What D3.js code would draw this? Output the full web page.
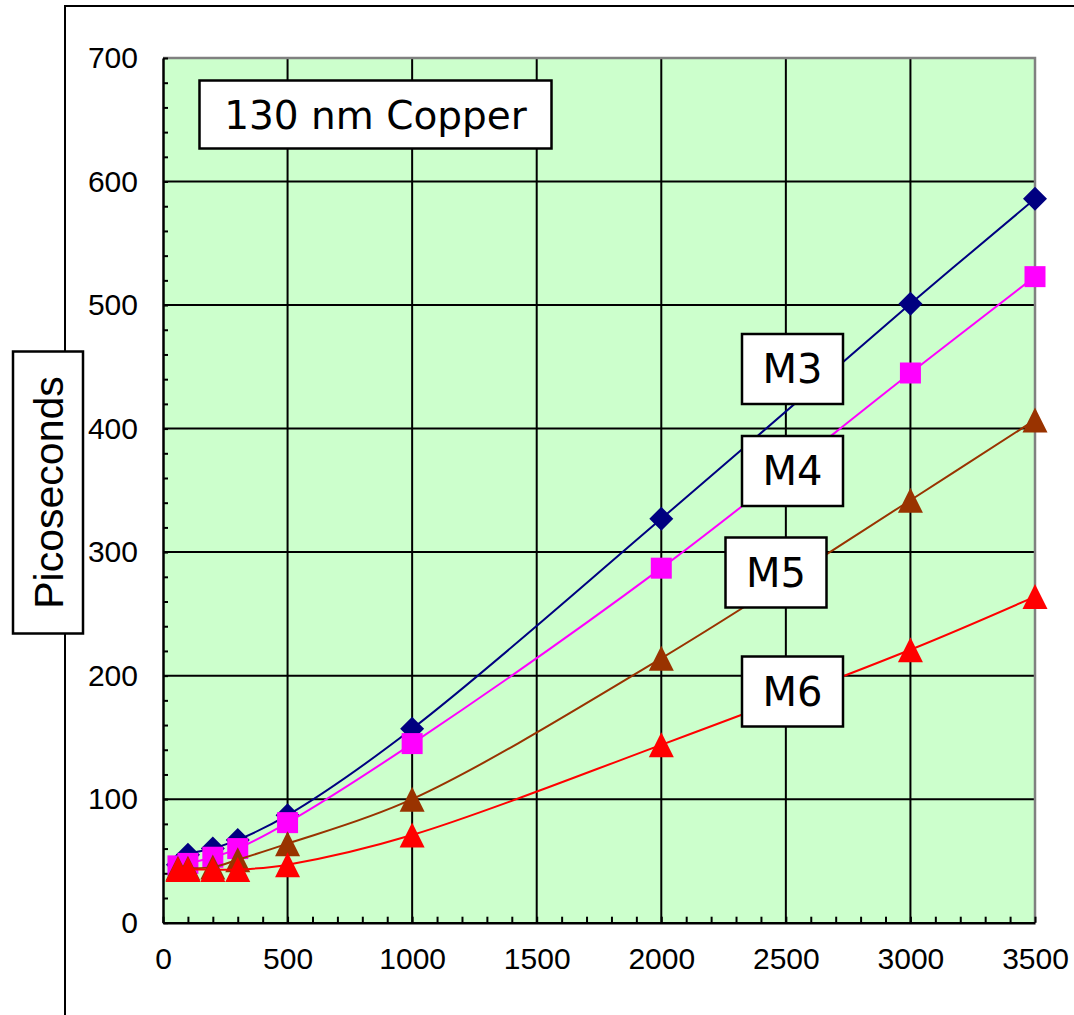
<!DOCTYPE html>
<html>
<head>
<meta charset="utf-8">
<script src="https://d3js.org/d3.v7.min.js"></script>
<style>
  body { margin: 0; background: #fff; }
  svg { display: block; }
</style>
</head>
<body>
<div id="chart"></div>
<script>
// data
const lengths = [60, 100, 200, 300, 500, 1000, 2000, 3000, 3500];
const m3 = [47, 55, 60, 67, 87, 157, 327, 501, 586];
const m4 = [46, 48, 53, 60, 81, 145, 287, 445, 523];
const m5 = [44, 44, 45, 51, 64, 100, 214, 342, 407];
const m6 = [43, 43, 43, 43, 47, 71, 144, 221, 264];
const seriesNames = ['M3', 'M4', 'M5', 'M6'];
const xTicks = [0, 500, 1000, 1500, 2000, 2500, 3000, 3500];
const yTicks = [0, 100, 200, 300, 400, 500, 600, 700];
const title = '130 nm Copper';
const yLabel = 'Picoseconds';

const width = 1074, height = 1015;
const plot = {left: 163, right: 1035, top: 58, bottom: 922.7};

const series = [
  {name: 'M3', values: m3, color: '#000080', marker: 'diamond'},
  {name: 'M4', values: m4, color: '#ff00ff', marker: 'square'},
  {name: 'M5', values: m5, color: '#993300', marker: 'triangle'},
  {name: 'M6', values: m6, color: '#ff0000', marker: 'triangle'}
];

const svg = d3.select('#chart').append('svg')
  .attr('width', width).attr('height', height);

const x = d3.scaleLinear([0, 3500], [plot.left, plot.right]);
const y = d3.scaleLinear([0, 700], [plot.bottom, plot.top]);

// outer frame (only top and left show)
svg.append('path')
  .attr('d', `M65,${height}V6H${width}`)
  .attr('fill', 'none').attr('stroke', '#000').attr('stroke-width', 2);

// plot background
svg.append('rect')
  .attr('x', plot.left).attr('y', plot.top)
  .attr('width', plot.right - plot.left).attr('height', plot.bottom - plot.top)
  .attr('fill', '#ccffcc');

// grid
const grid = svg.append('g').attr('stroke', '#000').attr('stroke-width', 2);
grid.selectAll('line.gx').data(xTicks.slice(1, -1)).join('line')
  .attr('x1', d => x(d)).attr('x2', d => x(d))
  .attr('y1', plot.top).attr('y2', plot.bottom);
grid.selectAll('line.gy').data(yTicks.slice(1, -1)).join('line')
  .attr('y1', d => y(d)).attr('y2', d => y(d))
  .attr('x1', plot.left).attr('x2', plot.right);

// gray top / right border
svg.append('path')
  .attr('d', `M${plot.left},${plot.top}H${plot.right}V${plot.bottom}`)
  .attr('fill', 'none').attr('stroke', '#808080').attr('stroke-width', 2.5);

// minor ticks, inside the plot
const axisY = svg.append('g')
  .attr('transform', `translate(${plot.left},0)`)
  .call(d3.axisRight(y).ticks(35).tickSizeInner(5).tickSizeOuter(0).tickFormat(''));
const axisX = svg.append('g')
  .attr('transform', `translate(0,${plot.bottom})`)
  .call(d3.axisTop(x).ticks(35).tickSizeInner(6).tickSizeOuter(0).tickFormat(''));
[axisY, axisX].forEach(a => {
  a.select('.domain').attr('stroke', '#000').attr('stroke-width', 2.5);
  a.selectAll('.tick line').attr('stroke', '#000').attr('stroke-width', 2);
});

// tick labels
const fmt = d3.format('d');
const labelsY = svg.append('g')
  .attr('transform', `translate(${plot.left - 25},0)`)
  .call(d3.axisLeft(y).tickValues(yTicks).tickFormat(fmt).tickSize(0).tickPadding(0));
const labelsX = svg.append('g')
  .attr('transform', `translate(0,${plot.bottom + 24})`)
  .call(d3.axisBottom(x).tickValues(xTicks).tickFormat(fmt).tickSize(0).tickPadding(0));
[labelsY, labelsX].forEach(a => {
  a.select('.domain').remove();
  a.selectAll('text')
    .attr('font-family', 'Arial, "Liberation Sans", sans-serif')
    .attr('font-size', 30).attr('fill', '#000');
});
labelsX.selectAll('text').attr('dy', '0.75em');

// lines then markers, series by series
const line = d3.line()
  .x((d, i) => x(lengths[i]))
  .y(d => y(d))
  .curve(d3.curveCatmullRom.alpha(0.5));

const markerPath = {
  diamond: 'M0,-12L12,0L0,12L-12,0Z',
  square: 'M-10.5,-10.5H10.5V10.5H-10.5Z',
  triangle: 'M0,-12.5L12.5,12.5H-12.5Z'
};

series.forEach(s => {
  const g = svg.append('g').attr('class', 'series');
  g.append('path')
    .attr('d', line(s.values))
    .attr('fill', 'none').attr('stroke', s.color).attr('stroke-width', 2);
  g.selectAll('path.marker').data(s.values).join('path')
    .attr('class', 'marker')
    .attr('transform', (d, i) => `translate(${x(lengths[i])},${y(d)})`)
    .attr('d', markerPath[s.marker])
    .attr('fill', s.color);
});

// boxed text labels
function box(cx, cy, w, h, text, size, family, rotate) {
  const g = svg.append('g').attr('transform', `translate(${cx},${cy})` + (rotate ? ' rotate(-90)' : ''));
  g.append('rect')
    .attr('x', -w / 2).attr('y', -h / 2).attr('width', w).attr('height', h)
    .attr('fill', '#fff').attr('stroke', '#000').attr('stroke-width', 2.5);
  g.append('text')
    .attr('text-anchor', 'middle').attr('dy', '0.36em')
    .attr('font-family', family).attr('font-size', size)
    .text(text);
}

const verdana = 'Verdana, "DejaVu Sans", sans-serif';
box(375.5, 114.5, 352, 68, title, 39, verdana);
box(48, 492.5, 282, 70, yLabel, 41, 'Arial, "Liberation Sans", sans-serif', true);

const tagPos = [[792.5, 369], [792.5, 471], [776, 572.5], [792.5, 691.5]];
seriesNames.forEach((n, i) => box(tagPos[i][0], tagPos[i][1], 101, 70, n, 40, verdana));
</script>
</body>
</html>
